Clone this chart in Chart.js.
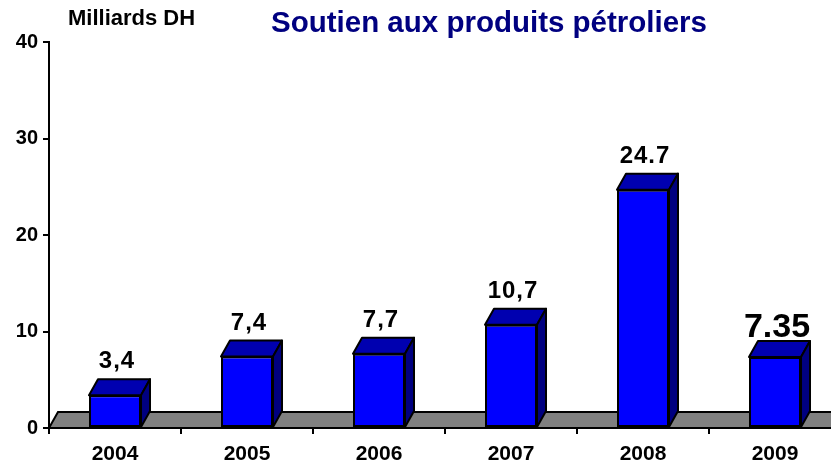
<!DOCTYPE html>
<html>
<head>
<meta charset="utf-8">
<script src="https://cdn.jsdelivr.net/npm/chart.js@4"></script>
<style>
  html, body { margin: 0; padding: 0; overflow: hidden; background: #fff; }
  canvas { display: block; }
</style>
</head>
<body>
<canvas id="chart" width="860" height="467"></canvas>
<script>
const years = ["2004", "2005", "2006", "2007", "2008", "2009"];
const values = [3.4, 7.4, 7.7, 10.7, 24.7, 7.35];
const valueLabels = ["3,4", "7,4", "7,7", "10,7", "24.7", "7.35"];
const yTicks = [0, 10, 20, 30, 40];

const FONT = "'Liberation Sans', Arial, sans-serif";
const DX = 9, DY = 16;

// floor, 3d faces, labels and titles
const deco = {
  id: "deco",
  beforeDatasetsDraw(chart) {
    const ctx = chart.ctx;
    const area = chart.chartArea;
    const y0 = chart.scales.y.getPixelForValue(0);
    ctx.save();
    ctx.beginPath();
    ctx.moveTo(area.left, y0);
    ctx.lineTo(area.right, y0);
    ctx.lineTo(area.right + DX, y0 - DY);
    ctx.lineTo(area.left + DX, y0 - DY);
    ctx.closePath();
    ctx.fillStyle = "#808080";
    ctx.fill();
    ctx.lineWidth = 2;
    ctx.strokeStyle = "#000";
    ctx.stroke();
    ctx.restore();
  },
  afterDatasetsDraw(chart) {
    const ctx = chart.ctx;
    const meta = chart.getDatasetMeta(0);
    ctx.save();
    ctx.lineWidth = 2;
    ctx.lineJoin = "round";
    ctx.strokeStyle = "#000";
    meta.data.forEach((bar, i) => {
      const p = bar.getProps(["x", "y", "base", "width"], true);
      const l = p.x - p.width / 2, r = p.x + p.width / 2;
      // top
      ctx.beginPath();
      ctx.moveTo(l, p.y);
      ctx.lineTo(l + DX, p.y - DY);
      ctx.lineTo(r + DX, p.y - DY);
      ctx.lineTo(r, p.y);
      ctx.closePath();
      ctx.fillStyle = "#0000B0";
      ctx.fill();
      ctx.stroke();
      // side
      ctx.beginPath();
      ctx.moveTo(r, p.y);
      ctx.lineTo(r + DX, p.y - DY);
      ctx.lineTo(r + DX, p.base - DY);
      ctx.lineTo(r, p.base);
      ctx.closePath();
      ctx.fillStyle = "#000080";
      ctx.fill();
      ctx.stroke();
      // value label
      const size = i === 5 ? 34 : 24;
      ctx.fillStyle = "#000";
      ctx.font = "bold " + size + "px " + FONT;
      ctx.letterSpacing = i === 5 ? "0px" : "1px";
      ctx.textAlign = "center";
      ctx.textBaseline = "alphabetic";
      ctx.fillText(valueLabels[i], p.x + 2, p.y - DY - (i === 5 ? 4 : 11));
    });
    ctx.restore();
  },
  afterDraw(chart) {
    const ctx = chart.ctx;
    ctx.save();
    ctx.fillStyle = "#000";
    ctx.font = "bold 22px " + FONT;
    ctx.textAlign = "left";
    ctx.textBaseline = "alphabetic";
    ctx.fillText("Milliards DH", 68, 25);
    ctx.fillStyle = "#000080";
    ctx.font = "bold 29.5px " + FONT;
    ctx.textAlign = "center";
    ctx.fillText("Soutien aux produits pétroliers", 489, 32);
    ctx.restore();
  }
};

new Chart(document.getElementById("chart"), {
  type: "bar",
  data: {
    labels: years,
    datasets: [{
      data: values,
      backgroundColor: "#0000FF",
      borderColor: "#000",
      borderWidth: 2,
      borderSkipped: false,
      categoryPercentage: 1,
      barPercentage: 0.394
    }]
  },
  options: {
    responsive: false,
    animation: false,
    layout: { padding: { top: 42, right: 19, left: 0, bottom: 0 } },
    plugins: { legend: { display: false }, tooltip: { enabled: false } },
    scales: {
      x: {
        afterFit: (s) => { s.height = 39; },
        grid: { drawOnChartArea: false, drawTicks: true, tickLength: 6, color: "#000", lineWidth: 2, offset: true },
        border: { color: "#000", width: 2 },
        ticks: { color: "#000", font: { family: FONT, size: 21, weight: "bold" }, padding: 8, maxRotation: 0 }
      },
      y: {
        min: 0,
        max: 40,
        afterFit: (s) => { s.width = 49; },
        afterBuildTicks: (s) => { s.ticks = yTicks.map(v => ({ value: v })); },
        grid: { drawOnChartArea: false, drawTicks: true, tickLength: 6, color: "#000", lineWidth: 2 },
        border: { color: "#000", width: 2 },
        ticks: { color: "#000", font: { family: FONT, size: 20, weight: "bold" }, padding: 5 }
      }
    }
  },
  plugins: [deco]
});
</script>
</body>
</html>
